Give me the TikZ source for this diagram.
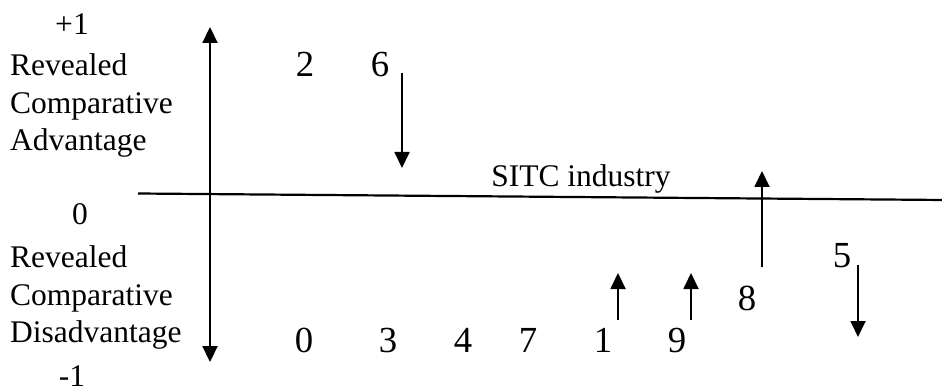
\documentclass[tikz,border=0pt]{standalone}
\usepackage{fontspec}
\setmainfont{Liberation Serif}
\usetikzlibrary{arrows.meta}
\tikzset{
  lbl/.style={inner sep=0pt, anchor=base west, font=\fontsize{31.5}{37}\selectfont},
  tick/.style={inner sep=0pt, anchor=base, font=\fontsize{31.5}{37}\selectfont},
  code/.style={inner sep=0pt, anchor=base, font=\fontsize{36.75}{42}\selectfont},
  axisline/.style={line width=2.2pt},
  move/.style={line width=1.8pt, -{Triangle[length=16pt,width=15pt]}},
}
\begin{document}
\begin{tikzpicture}[x=1pt, y=-1pt]
\useasboundingbox (0,0) rectangle (942,390);

% vertical RCA axis
\coordinate (ytop) at (210,27);
\coordinate (ybot) at (210,362);
\draw[axisline, {Triangle[length=16pt,width=15pt]}-{Triangle[length=16pt,width=15pt]}] (ytop) -- (ybot);

% horizontal industry axis
\coordinate (xl) at (138,193.5);
\coordinate (xr) at (945,200);
\draw[axisline] (xl) -- (xr);
\node[tick] (sitc) at (581,187) {SITC industry};

% scale labels
\node[tick] (pone) at (72,35) {+1};
\node[tick] (zero) at (80,225) {0};
\node[tick] (mone) at (72,386) {-1};

\node[lbl] (rev1) at (10,76) {Revealed};
\node[lbl] (comp1) at (10,114) {Comparative};
\node[lbl] (adv) at (10,151) {Advantage};
\node[lbl] (rev2) at (10,267) {Revealed};
\node[lbl] (comp2) at (10,305) {Comparative};
\node[lbl] (disadv) at (10,342) {Disadvantage};

% industry codes
\node[code] (c2) at (305,77) {2};
\node[code] (c6) at (380,77) {6};
\node[code] (c0) at (304,352) {0};
\node[code] (c3) at (388,352) {3};
\node[code] (c4) at (463,352) {4};
\node[code] (c7) at (528,352) {7};
\node[code] (c1) at (603,352) {1};
\node[code] (c9) at (677,352) {9};
\node[code] (c8) at (747,310) {8};
\node[code] (c5) at (842,267) {5};

% direction of change
\coordinate (a6s) at (402,73);  \coordinate (a6e) at (402,168);
\coordinate (a8s) at (762,267); \coordinate (a8e) at (762,171);
\coordinate (a1s) at (618,320); \coordinate (a1e) at (618,273);
\coordinate (a9s) at (691,320); \coordinate (a9e) at (691,273);
\coordinate (a5s) at (858,265); \coordinate (a5e) at (858,337);
\draw[move] (a6s) -- (a6e);
\draw[move] (a8s) -- (a8e);
\draw[move] (a1s) -- (a1e);
\draw[move] (a9s) -- (a9e);
\draw[move] (a5s) -- (a5e);
\end{tikzpicture}
\end{document}
